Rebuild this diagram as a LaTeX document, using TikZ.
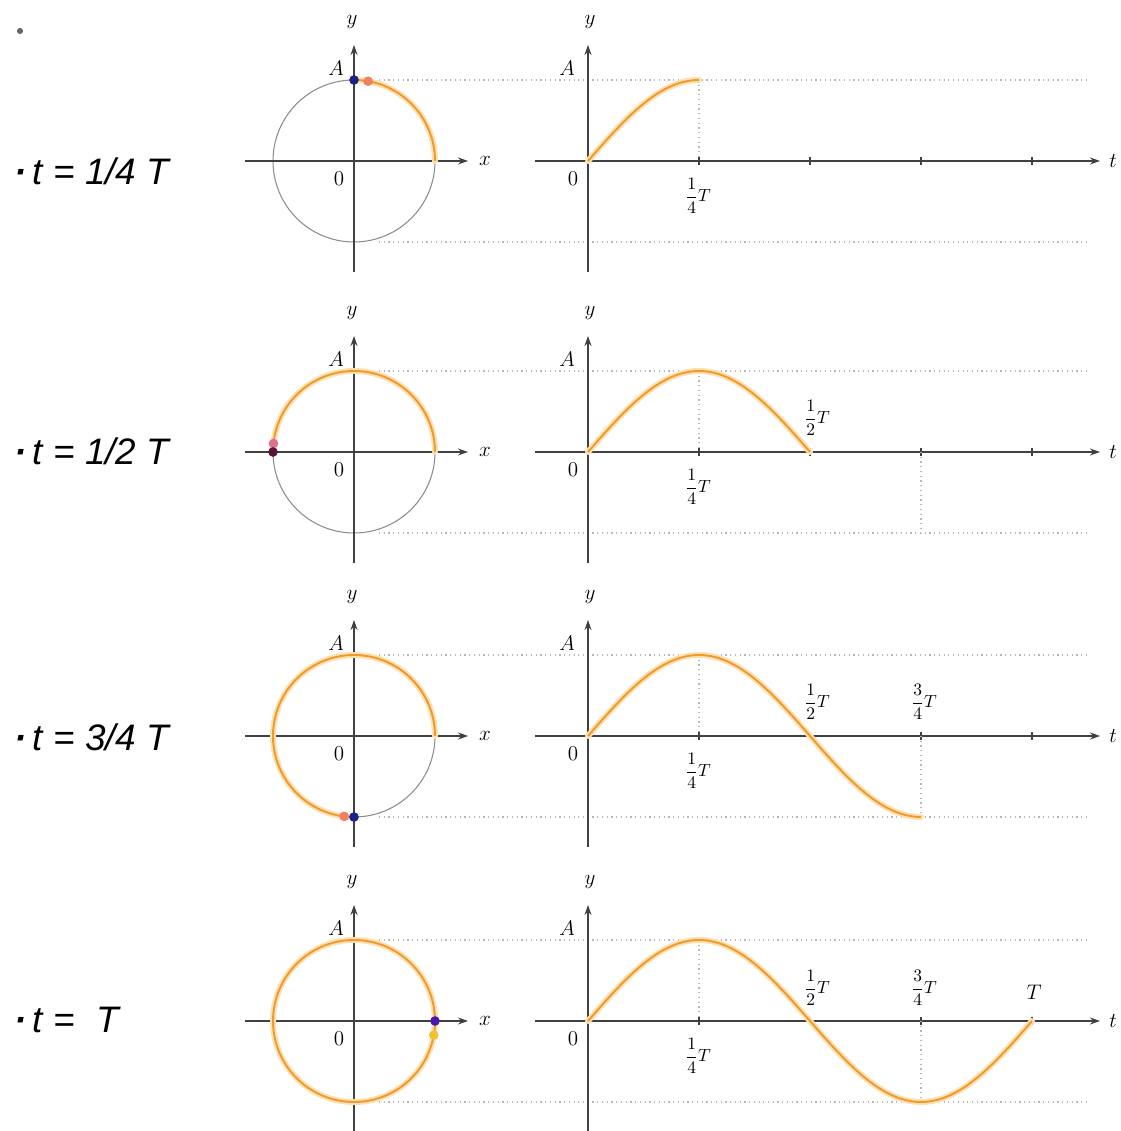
\documentclass[tikz,border=0pt]{standalone}
\usepackage{fontspec}
\newfontfamily\steplblfont{Liberation Sans}
\usetikzlibrary{arrows.meta}
\definecolor{waveorange}{HTML}{EE9A2E}
\definecolor{waveglow}{HTML}{FCE0B0}
\definecolor{orbitgrey}{HTML}{8C8C8C}
\definecolor{axisgrey}{HTML}{404040}
\definecolor{guidegrey}{HTML}{B8B8B8}
\definecolor{pointblue}{HTML}{1C2388}
\definecolor{pointmaroon}{HTML}{5A1438}
\definecolor{pointpurple}{HTML}{4A18B0}
\definecolor{lagred}{HTML}{F08060}
\definecolor{lagpink}{HTML}{E07090}
\definecolor{lagyellow}{HTML}{F5C030}

\begin{document}
\begin{tikzpicture}[
    x=0.02cm, y=0.02cm,
    axis/.style={-{Stealth[length=2mm, width=1.4mm]}, axisgrey, line width=0.6pt},
    orbit/.style={orbitgrey, line width=0.6pt},
    guide/.style={guidegrey, dotted, line width=0.7pt},
    wave/.style={waveorange, line width=1.1pt},
    glow/.style={waveglow, line width=3.4pt, line cap=round},
    mlbl/.style={font=\fontsize{12}{14}\selectfont, inner sep=1pt},
    flbl/.style={font=\fontsize{10}{12}\selectfont, inner sep=1pt},
    steplbl/.style={font=\steplblfont\itshape\fontsize{21}{25}\selectfont, anchor=west, inner sep=0pt},
    dotmark/.style={circle, fill=#1, inner sep=0pt, minimum size=5.5pt}
]
\useasboundingbox (0,0) rectangle (1120,1131);

\node[circle, fill=black!60, inner sep=0pt, minimum size=3.5pt] (mark) at (20,1100) {};

% common frame of every row: circle, axes, guides
\foreach \r/\yr in {1/970,2/679,3/395,4/110}{
  \begin{scope}[shift={(354,\yr)}]
    \draw[orbit] (0,0) circle[radius=81];
    \draw[guide] (25,81) -- (736,81);
    \draw[guide] (25,-81) -- (736,-81);
    \draw[guide] (345,81) -- (345,0);
    \draw[axis] (-109,0) -- (114,0);
    \draw[axis] (0,-111) -- (0,116);
    \draw[axis] (181,0) -- (746,0);
    \draw[axis] (234,-111) -- (234,116);
    \foreach \k in {1,...,4}
      \draw[axisgrey, line width=0.6pt] (234+111*\k,-4) -- (234+111*\k,4);
    \node[mlbl] (cx\r) at (131,0) {$x$};
    \node[mlbl] (cy\r) at (-2,139) {$y$};
    \node[mlbl] (cA\r) at (-18,93) {$A$};
    \node[mlbl] (c0\r) at (-15,-18) {$0$};
    \node[mlbl] (gt\r) at (759,0) {$t$};
    \node[mlbl] (gy\r) at (236,139) {$y$};
    \node[mlbl] (gA\r) at (213,93) {$A$};
    \node[mlbl] (g0\r) at (219,-18) {$0$};
    \node[flbl] (q\r) at (344,-35) {$\displaystyle\frac{1}{4}T$};
  \end{scope}
}

% t = 1/4 T
\node[steplbl] (s1) at (14,960) {\textbf{·}\,t = 1/4 T};
\begin{scope}[shift={(354,970)}]
  \draw[glow] (81,0) arc[start angle=0, end angle=90, radius=81];
  \draw[wave] (81,0) arc[start angle=0, end angle=90, radius=81];
  \draw[glow] plot[domain=0:111, samples=40] ({234+\x},{81*sin(\x*0.810811)});
  \draw[wave] plot[domain=0:111, samples=40] ({234+\x},{81*sin(\x*0.810811)});
  \node[dotmark=lagred] (lag1) at (80:81) {};
  \node[dotmark=pointblue] (pt1) at (90:81) {};
\end{scope}

% t = 1/2 T
\node[steplbl] (s2) at (14,680) {\textbf{·}\,t = 1/2 T};
\begin{scope}[shift={(354,679)}]
  \draw[guide] (567,0) -- (567,-81);
  \draw[glow] (81,0) arc[start angle=0, end angle=180, radius=81];
  \draw[wave] (81,0) arc[start angle=0, end angle=180, radius=81];
  \draw[glow] plot[domain=0:222, samples=60] ({234+\x},{81*sin(\x*0.810811)});
  \draw[wave] plot[domain=0:222, samples=60] ({234+\x},{81*sin(\x*0.810811)});
  \node[dotmark=lagpink] (lag2) at (174:81) {};
  \node[dotmark=pointmaroon] (pt2) at (180:81) {};
  \node[flbl] (h2) at (463,34) {$\displaystyle\frac{1}{2}T$};
\end{scope}

% t = 3/4 T
\node[steplbl] (s3) at (14,394) {\textbf{·}\,t = 3/4 T};
\begin{scope}[shift={(354,395)}]
  \draw[guide] (567,0) -- (567,-81);
  \draw[glow] (81,0) arc[start angle=0, end angle=270, radius=81];
  \draw[wave] (81,0) arc[start angle=0, end angle=270, radius=81];
  \draw[glow] plot[domain=0:333, samples=80] ({234+\x},{81*sin(\x*0.810811)});
  \draw[wave] plot[domain=0:333, samples=80] ({234+\x},{81*sin(\x*0.810811)});
  \node[dotmark=lagred] (lag3) at (263:81) {};
  \node[dotmark=pointblue] (pt3) at (270:81) {};
  \node[flbl] (h3) at (463,34) {$\displaystyle\frac{1}{2}T$};
  \node[flbl] (tq3) at (570,34) {$\displaystyle\frac{3}{4}T$};
\end{scope}

% t = T
\node[steplbl] (s4) at (14,111) {\textbf{·}\,t =\hspace{0.6em}T};
\begin{scope}[shift={(354,110)}]
  \draw[guide] (567,0) -- (567,-81);
  \draw[glow] (0,0) circle[radius=81];
  \draw[wave] (0,0) circle[radius=81];
  \draw[glow] plot[domain=0:444, samples=100] ({234+\x},{81*sin(\x*0.810811)});
  \draw[wave] plot[domain=0:444, samples=100] ({234+\x},{81*sin(\x*0.810811)});
  \node[dotmark=lagyellow] (lag4) at (-10:81) {};
  \node[dotmark=pointpurple] (pt4) at (0:81) {};
  \node[flbl] (h4) at (463,33) {$\displaystyle\frac{1}{2}T$};
  \node[flbl] (tq4) at (570,33) {$\displaystyle\frac{3}{4}T$};
  \node[mlbl] (T4) at (680,29) {$T$};
\end{scope}
\end{tikzpicture}
\end{document}
